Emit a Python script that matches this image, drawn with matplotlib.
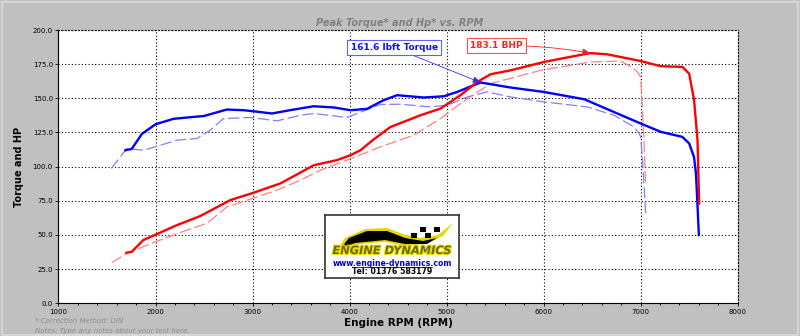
import matplotlib
matplotlib.use("Agg")
import matplotlib.pyplot as plt
from matplotlib.patches import Rectangle, Polygon
from matplotlib.ticker import MultipleLocator, FormatStrFormatter
import matplotlib.patheffects as pe

# Run data
tq_rpm = [1690, 1755, 1860, 2000, 2185, 2390, 2495, 2620, 2735, 2910, 3050, 3200, 3400,
          3630, 3840, 4010, 4180, 4350, 4490, 4765, 4971, 5110, 5280, 5350, 5660, 6000,
          6420, 6760, 7000, 7210, 7430, 7500, 7550, 7570, 7585, 7600]
tq_val = [112, 113, 124, 131, 135, 136.4, 137, 139.5, 141.8, 141.3, 140.2, 138.9, 141.5,
          144.2, 143.3, 141.3, 142.3, 148.6, 152.3, 150.6, 151.5, 154.7, 159.6, 161.6, 157.9,
          154.7, 149.3, 138.9, 131.6, 125.4, 121.8, 117, 107, 95, 73, 50]

hp_rpm = [1700, 1755, 1875, 2000, 2220, 2460, 2770, 3010, 3286, 3450, 3630, 3871, 4010,
          4112, 4250, 4421, 4731, 4937, 5143, 5316, 5453, 5660, 6003, 6250, 6480, 6657,
          7000, 7208, 7431, 7500, 7551, 7586, 7603]
hp_val = [37, 37.7, 46.3, 50.2, 57.2, 63.8, 75.5, 80.9, 87.7, 94, 101, 104.8, 108.4,
          112, 120, 129, 137.6, 142.5, 152.3, 162, 167.6, 170.5, 176.6, 180, 183.1, 182.2,
          177.3, 173.5, 173, 168, 148.6, 119.4, 73]

# Comparison run (dashed)
tq2_rpm = [1545, 1704, 1875, 1996, 2220, 2427, 2563, 2700, 2976, 3252, 3492, 3630,
           3975, 4318, 4524, 4834, 5006, 5213, 5419, 5660, 6003, 6451, 6726, 6932,
           6984, 7000, 7017, 7034, 7052]
tq2_val = [98.7, 113.3, 112, 114.5, 119.4, 120.6, 126.7, 135.2, 136, 133.5, 137.6, 138.9,
           136, 145.5, 145.7, 143.7, 145, 151, 154.7, 151, 147.4, 143.7, 137.6, 129,
           124.3, 121.8, 107.2, 87.7, 64.5]

hp2_rpm = [1549, 1704, 2000, 2323, 2530, 2736, 3000, 3252, 3492, 3698, 3975, 4318,
           4661, 4937, 5143, 5453, 5970, 6485, 6795, 6932, 6967, 7000, 7017, 7034, 7052]
hp2_val = [29.7, 36.5, 45, 53.6, 58.5, 70.6, 76.8, 82.8, 90.1, 97.4, 104.8, 114.5,
           123, 135.2, 146.2, 160.8, 170.5, 176.6, 177.3, 171.8, 169.3, 165.6, 143.7, 119.4, 86]

peak_tq = (5350, 161.6)
peak_hp = (6480, 183.1)

fig = plt.figure(figsize=(8, 3.36), dpi=100, facecolor="#c0c0c0")
fig.patches.append(Rectangle((0.002, 0.003), 0.996, 0.99, transform=fig.transFigure,
                             fill=False, edgecolor="#dcdcdc", lw=1.2))
ax = fig.add_axes([0.0731, 0.0973, 0.8490, 0.8134])
ax.set_facecolor("white")

# dashed run first so the solid run sits on top
ax.plot(tq2_rpm, tq2_val, color="#7f7fff", lw=0.9, ls=(0, (9, 3)))
ax.plot(hp2_rpm, hp2_val, color="#ff8080", lw=0.9, ls=(0, (9, 3)))
ax.plot(tq_rpm, tq_val, color="#0000ff", lw=1.7, solid_joinstyle="round")
ax.plot(hp_rpm, hp_val, color="#ff0000", lw=1.7, solid_joinstyle="round")

ax.set_xlim(1000, 8000)
ax.set_ylim(0, 200)
ax.xaxis.set_major_locator(MultipleLocator(1000))
ax.xaxis.set_minor_locator(MultipleLocator(200))
ax.yaxis.set_major_locator(MultipleLocator(25))
ax.yaxis.set_major_formatter(FormatStrFormatter("%.1f"))
ax.tick_params(axis="both", which="major", labelsize=5, length=2.5, width=0.6, pad=1.5)
ax.tick_params(axis="x", which="minor", length=1.5, width=0.6)
ax.grid(True, which="major", color="black", ls=(0, (1, 2)), lw=0.8)
for s in ax.spines.values():
    s.set_linewidth(0.8)
    s.set_linestyle((0, (1, 2)))
ax.spines["left"].set_linestyle("-")
ax.spines["bottom"].set_linestyle("-")

ax.set_xlabel("Engine RPM (RPM)", fontsize=7.5, fontweight="bold", labelpad=2)
ax.set_ylabel("Torque and HP", fontsize=7, fontweight="bold", labelpad=6)
fig.text(0.5, 0.933, "Peak Torque* and Hp* vs. RPM", ha="center", va="center",
         fontsize=7, color="#808080", style="italic", fontweight="bold")
fig.text(0.044, 0.040, "* Correction Method: DIN", fontsize=5, color="#8c8c8c", style="italic")
fig.text(0.044, 0.010, "Notes: Type any notes about your test here.", fontsize=5,
         color="#8c8c8c", style="italic")

# peak annotations
ax.annotate("161.6 lbft Torque", xy=peak_tq, xytext=(4460, 187), ha="center", va="center",
            fontsize=6.5, fontweight="bold", color="#1010ff",
            bbox=dict(boxstyle="square,pad=0.35", fc="white", ec="#6060ff", lw=0.8),
            arrowprops=dict(arrowstyle="-|>,head_length=0.7,head_width=0.3", color="#3030ff",
                            lw=0.6, shrinkA=0, shrinkB=0))
ax.annotate("183.1 BHP", xy=peak_hp, xytext=(5510, 188.5), ha="center", va="center",
            fontsize=6.5, fontweight="bold", color="#ff2020",
            bbox=dict(boxstyle="square,pad=0.35", fc="white", ec="#ff5050", lw=0.8),
            arrowprops=dict(arrowstyle="-|>,head_length=0.7,head_width=0.3", color="#ff2020",
                            lw=0.6, shrinkA=0, shrinkB=0, connectionstyle="arc3,rad=-0.05"))

# logo box
lg = fig.add_axes([325 / 800, 1 - 278 / 336, 134 / 800, 63 / 336])
lg.set_xlim(0, 134)
lg.set_ylim(0, 63)
lg.set_xticks([])
lg.set_yticks([])
lg.set_facecolor("white")
for s in lg.spines.values():
    s.set_linewidth(1.2)
    s.set_color("#333333")
lg.add_patch(Polygon([(12, 28), (20, 40), (40, 49), (62, 50), (78, 44), (95, 40), (113, 43),
                      (128, 55), (118, 42), (100, 34), (80, 32), (60, 36), (35, 34), (15, 26)],
                     closed=True, fc="#e8d400", ec="none"))
lg.add_patch(Polygon([(16, 30), (24, 40), (42, 47), (62, 47), (80, 40), (98, 37), (112, 40),
                      (102, 34), (80, 34), (60, 38), (30, 35)],
                     closed=True, fc="black", ec="none"))
for i in range(4):
    for j in range(2):
        if (i + j) % 2 == 0:
            lg.add_patch(Rectangle((86 + i * 7 + j * 2, 40 + j * 6), 6, 5.5, fc="black",
                                   ec="none", transform=lg.transData))
lg.text(67, 27, "ENGINE DYNAMICS", ha="center", va="center", fontsize=8.2,
        fontweight="bold", style="italic", color="#6b6b10",
        path_effects=[pe.withStroke(linewidth=1.6, foreground="#f0e000")])
lg.text(67, 15, "www.engine-dynamics.com", ha="center", va="center", fontsize=5.6,
        fontweight="bold", color="#0000e0")
lg.plot([27, 107], [11.5, 11.5], color="#0000e0", lw=0.6)
lg.text(67, 6, "Tel: 01376 583179", ha="center", va="center", fontsize=5.6,
        fontweight="bold", color="black")

fig.savefig("out.png", dpi=100, facecolor=fig.get_facecolor())
